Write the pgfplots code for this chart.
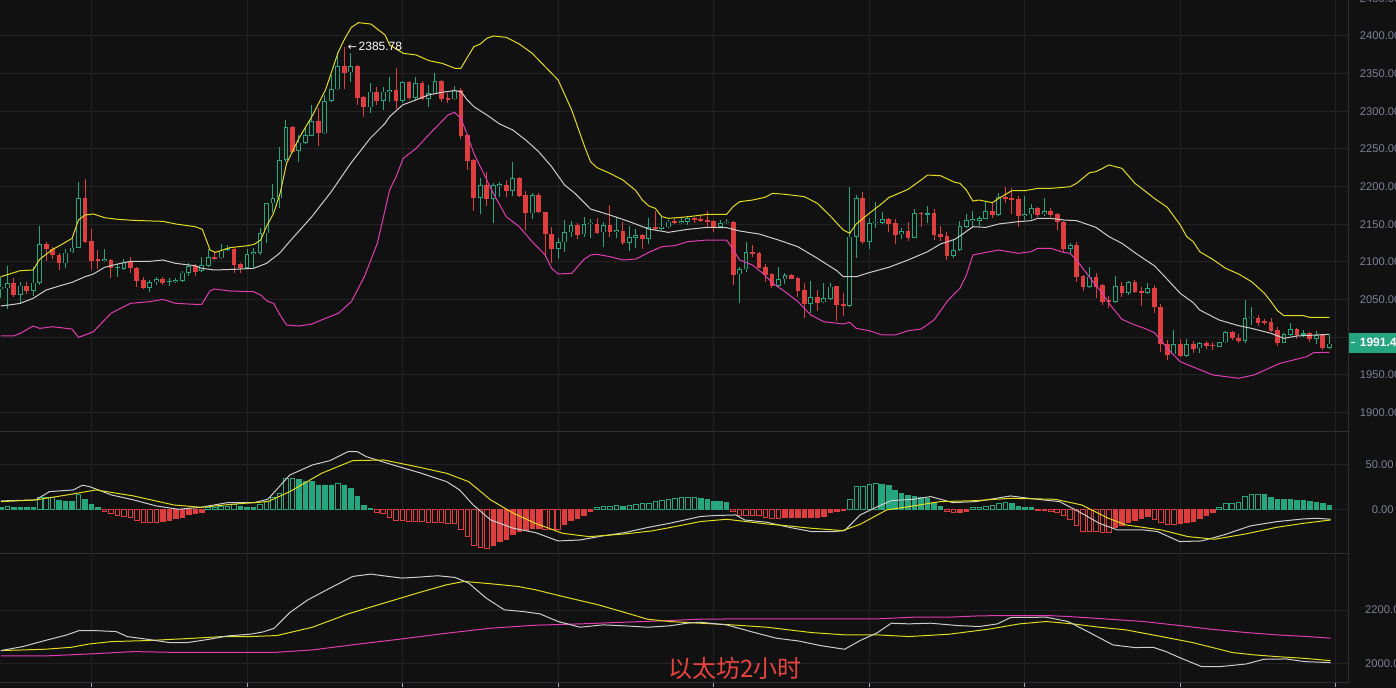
\documentclass[border=0pt]{standalone}
\usepackage{pgfplots}
\pgfplotsset{compat=1.18}
\usepackage{pgfplotstable}
\usepackage{fontspec}
\setmainfont{Liberation Sans}
\newfontfamily\cjk{Noto Sans CJK SC}
\newfontfamily\dejavu{DejaVu Sans}
\definecolor{bg}{RGB}{17,17,18}
\definecolor{gridc}{RGB}{34,34,37}
\definecolor{sepc}{RGB}{46,46,50}
\definecolor{cgreen}{RGB}{38,166,127}
\definecolor{cred}{RGB}{222,62,62}
\definecolor{cyel}{RGB}{228,218,30}
\definecolor{cmag}{RGB}{226,60,178}
\definecolor{cwht}{RGB}{205,205,205}
\definecolor{labc}{RGB}{122,130,150}
\definecolor{titc}{RGB}{232,68,62}

\pgfplotstableread{
j o h l c
0 2063.6 2080.4 2051.7 2067.2
1 2065.0 2094.6 2037.1 2071.6
2 2071.6 2078.2 2053.9 2056.1
3 2056.1 2073.8 2045.9 2068.5
4 2068.5 2073.8 2057.4 2061.8
5 2061.8 2092.8 2054.8 2072.5
6 2072.5 2148.2 2069.4 2123.4
7 2123.4 2126.9 2101.7 2117.6
8 2117.6 2120.2 2103.5 2108.8
9 2108.8 2112.3 2089.3 2098.1
10 2098.1 2116.7 2091.5 2112.3
11 2112.7 2131.3 2111.4 2119.0
12 2119.0 2205.7 2118.1 2184.4
13 2184.4 2210.1 2124.7 2126.9
14 2127.8 2143.3 2089.3 2101.7
15 2103.9 2115.8 2091.1 2101.7
16 2101.7 2116.7 2100.4 2103.9
17 2102.6 2104.3 2078.2 2091.5
18 2091.5 2096.8 2080.4 2093.3
19 2091.1 2103.5 2089.3 2099.0
20 2100.4 2106.1 2084.9 2091.5
21 2091.5 2093.7 2067.2 2075.1
22 2076.0 2080.4 2063.6 2065.8
23 2065.8 2076.0 2060.5 2072.9
24 2072.9 2079.5 2069.4 2076.9
25 2076.9 2079.5 2069.4 2072.5
26 2072.9 2078.2 2068.5 2074.2
27 2073.8 2079.1 2072.5 2076.0
28 2074.6 2088.4 2073.8 2085.7
29 2085.7 2099.0 2081.3 2094.2
30 2095.0 2096.8 2081.3 2087.1
31 2088.0 2107.0 2087.1 2095.9
32 2095.0 2116.7 2093.7 2106.1
33 2106.1 2112.7 2102.6 2103.9
34 2104.8 2123.8 2103.5 2115.0
35 2115.8 2122.0 2115.0 2119.0
36 2117.6 2118.5 2085.8 2095.9
37 2096.8 2099.0 2085.8 2092.4
38 2092.4 2116.7 2090.2 2110.1
39 2110.1 2119.0 2093.7 2112.7
40 2112.3 2144.6 2109.2 2138.0
41 2138.0 2178.7 2124.7 2177.8
42 2177.8 2203.5 2164.5 2184.4
43 2184.4 2253.1 2171.2 2235.3
44 2235.3 2288.5 2233.1 2278.7
45 2278.7 2280.5 2245.1 2246.4
46 2247.7 2268.5 2233.1 2258.4
47 2258.4 2279.6 2256.6 2268.5
48 2267.6 2308.4 2267.2 2287.1
49 2287.1 2303.9 2253.9 2271.6
50 2270.8 2321.2 2269.4 2313.7
51 2313.7 2348.2 2312.8 2329.2
52 2329.2 2378.3 2328.3 2360.2
53 2360.2 2385.8 2329.2 2351.3
54 2351.7 2377.0 2339.4 2360.2
55 2360.2 2361.0 2308.4 2318.1
56 2318.6 2320.3 2292.9 2305.3
57 2305.3 2337.1 2298.2 2326.1
58 2326.1 2332.7 2308.4 2314.1
59 2314.1 2332.7 2301.7 2326.1
60 2325.2 2346.0 2312.8 2328.3
61 2328.3 2357.1 2303.1 2314.1
62 2314.1 2340.7 2311.5 2338.5
63 2338.5 2340.7 2315.0 2317.2
64 2318.1 2345.1 2315.0 2337.1
65 2337.1 2340.2 2315.0 2316.3
66 2316.3 2334.9 2306.2 2323.9
67 2323.9 2350.4 2323.0 2340.2
68 2340.2 2341.6 2312.8 2316.3
69 2318.1 2324.7 2310.6 2315.0
70 2315.9 2333.6 2315.0 2328.3
71 2328.3 2331.4 2262.8 2267.6
72 2268.5 2269.4 2222.1 2234.5
73 2235.3 2236.2 2168.1 2185.3
74 2185.3 2211.0 2163.2 2202.1
75 2202.1 2219.0 2174.7 2183.6
76 2183.6 2205.2 2151.2 2202.1
77 2201.3 2205.7 2185.8 2203.5
78 2202.1 2208.8 2186.7 2194.6
79 2194.6 2232.2 2188.0 2211.0
80 2211.0 2213.2 2185.8 2188.0
81 2188.9 2194.6 2142.4 2164.5
82 2164.5 2191.1 2157.0 2188.9
83 2188.9 2192.0 2164.5 2165.9
84 2165.9 2166.8 2107.0 2136.7
85 2136.7 2146.8 2098.1 2117.6
86 2117.6 2131.3 2103.9 2126.0
87 2126.0 2155.7 2113.6 2139.3
88 2139.3 2154.4 2133.5 2148.6
89 2148.6 2151.2 2130.0 2135.8
90 2136.7 2160.1 2133.5 2150.4
91 2150.0 2156.6 2131.3 2152.2
92 2150.4 2157.9 2136.7 2138.9
93 2139.3 2153.5 2120.2 2149.0
94 2149.0 2175.6 2133.5 2140.2
95 2140.2 2159.2 2131.3 2142.4
96 2141.1 2153.5 2122.5 2125.6
97 2125.6 2148.2 2115.0 2132.7
98 2132.2 2143.7 2118.1 2135.3
99 2135.8 2136.7 2116.7 2130.5
100 2130.9 2157.9 2123.8 2146.0
101 2146.0 2168.1 2142.4 2143.7
102 2143.7 2160.1 2142.4 2146.8
103 2146.0 2155.7 2144.6 2153.5
104 2154.8 2157.9 2149.9 2152.2
105 2152.2 2160.1 2150.4 2154.4
106 2153.5 2160.1 2149.0 2157.9
107 2157.9 2160.1 2152.2 2155.7
108 2157.0 2161.0 2153.5 2154.4
109 2155.7 2168.1 2146.8 2153.0
110 2154.4 2155.7 2140.2 2146.0
111 2146.8 2155.7 2146.0 2151.3
112 2151.3 2157.0 2150.4 2153.5
113 2153.5 2154.4 2069.4 2082.7
114 2083.5 2093.7 2045.9 2090.2
115 2090.2 2126.9 2087.1 2112.7
116 2112.7 2122.5 2106.1 2110.5
117 2111.4 2112.7 2091.5 2092.4
118 2092.8 2096.8 2073.8 2082.7
119 2084.0 2085.8 2065.8 2068.5
120 2068.5 2092.8 2067.2 2076.9
121 2076.9 2084.9 2070.7 2082.2
122 2082.2 2084.0 2076.9 2077.8
123 2078.2 2080.4 2053.9 2061.8
124 2062.3 2071.6 2025.1 2044.2
125 2044.6 2075.1 2032.6 2053.0
126 2053.0 2062.7 2035.3 2045.9
127 2046.4 2071.6 2045.9 2051.7
128 2050.8 2071.6 2049.5 2067.2
129 2068.0 2068.5 2022.0 2042.8
130 2044.2 2058.3 2028.2 2042.0
131 2042.0 2199.9 2039.7 2133.6
132 2133.6 2188.9 2105.7 2184.4
133 2184.4 2192.4 2123.4 2126.9
134 2126.9 2157.9 2116.7 2151.3
135 2151.3 2179.1 2144.6 2153.5
136 2152.2 2165.9 2149.9 2156.6
137 2156.6 2157.9 2139.3 2150.4
138 2151.3 2156.6 2123.4 2135.8
139 2136.7 2144.6 2130.0 2141.1
140 2141.1 2153.5 2128.2 2132.2
141 2132.2 2170.3 2131.3 2164.5
142 2165.4 2166.8 2146.8 2163.2
143 2162.8 2174.7 2151.3 2164.5
144 2164.5 2169.8 2129.1 2135.8
145 2136.7 2148.2 2127.8 2133.6
146 2134.4 2140.2 2102.6 2108.3
147 2108.3 2129.1 2104.8 2115.8
148 2115.8 2154.4 2115.0 2147.7
149 2146.8 2163.2 2144.6 2155.7
150 2154.8 2168.1 2144.6 2157.0
151 2154.8 2161.0 2147.7 2158.4
152 2157.5 2180.0 2156.6 2167.6
153 2167.6 2177.8 2157.9 2162.3
154 2162.3 2191.1 2161.4 2185.8
155 2186.7 2199.9 2177.8 2183.6
156 2185.3 2197.7 2163.7 2182.2
157 2183.6 2187.5 2146.0 2161.4
158 2161.4 2187.5 2155.7 2163.7
159 2163.2 2176.9 2157.0 2171.2
160 2171.2 2173.4 2160.1 2162.3
161 2163.2 2185.3 2161.4 2167.6
162 2167.6 2171.2 2159.2 2162.3
163 2163.7 2164.5 2142.4 2152.6
164 2153.5 2154.4 2112.7 2117.2
165 2117.2 2124.7 2112.3 2122.5
166 2122.5 2126.9 2073.8 2080.4
167 2081.3 2082.7 2061.8 2067.2
168 2067.2 2093.7 2065.0 2080.4
169 2080.4 2084.9 2051.7 2067.2
170 2069.4 2070.3 2042.8 2047.3
171 2049.5 2054.8 2038.4 2047.3
172 2047.3 2081.3 2045.9 2068.0
173 2068.0 2072.9 2053.9 2059.2
174 2059.2 2074.7 2056.1 2072.9
175 2072.9 2076.0 2058.3 2060.5
176 2061.4 2067.2 2041.5 2059.2
177 2059.2 2071.6 2057.4 2064.9
178 2064.9 2069.4 2032.6 2039.7
179 2039.7 2043.7 1980.9 1991.0
180 1991.0 1996.3 1969.8 1976.4
181 1977.3 2009.6 1975.1 1991.0
182 1991.0 1997.2 1974.2 1975.5
183 1975.5 1997.2 1974.2 1991.0
184 1991.0 1995.5 1978.6 1984.4
185 1985.3 1994.1 1978.6 1991.9
186 1992.8 1995.5 1984.4 1988.8
187 1990.2 1994.1 1983.1 1987.9
188 1987.5 1994.1 1986.6 1993.3
189 1993.3 2008.3 1992.8 2006.5
190 2006.5 2008.3 1996.3 1998.6
191 1998.6 2004.3 1991.9 1995.5
192 1995.5 2049.5 1991.9 2025.1
193 2025.1 2039.7 2016.3 2027.3
194 2025.1 2029.5 2015.0 2018.5
195 2021.6 2024.2 2016.3 2018.5
196 2020.7 2025.1 2006.5 2008.3
197 2009.6 2013.2 1988.8 1992.8
198 1992.8 2005.2 1991.9 2003.9
199 2003.0 2019.4 2001.7 2010.5
200 2010.5 2011.8 1997.2 2003.0
201 2003.4 2009.6 2000.8 2005.2
202 2005.2 2006.5 1993.3 1997.7
203 1997.7 2008.3 1991.0 2003.0
204 2003.0 2003.9 1983.1 1986.2
205 1986.2 2003.0 1984.0 1991.4
}\candles

\pgfplotstableread{
j v
0 2080.4
3 2088.4
5 2089.3
6 2103.5
8 2116.7
9 2121.2
11 2131.3
12 2155.7
13 2162.3
14.3 2163.7
16 2158.8
18 2156.6
20.5 2155.2
25 2153.9
27 2150.4
30 2146.8
31.1 2143.3
32.3 2115.8
33.1 2112.7
35.4 2119.0
38.1 2121.6
39.1 2123.4
40.1 2129.1
41.1 2149.0
42.1 2164.5
43.1 2191.1
44.1 2230.9
46 2264.1
48 2292.9
50.1 2328.3
52.1 2379.2
53.1 2396.9
54.1 2411.5
55.2 2417.7
57.1 2415.9
59.3 2401.3
60 2388.0
62.1 2377.0
64.1 2374.8
66.1 2367.2
68.1 2363.7
70.1 2357.1
71 2357.1
72 2371.7
73 2385.8
74 2389.4
75 2396.9
76 2400.0
78 2398.2
80 2389.4
82 2377.0
84 2359.3
86 2341.6
88.1 2301.7
90 2255.3
91 2233.1
92 2225.2
94 2217.6
96 2208.8
98 2194.6
99 2182.2
100 2174.3
101 2171.2
102 2160.1
103 2157.9
105 2159.2
107 2161.0
109 2163.2
112 2163.2
113 2173.4
114 2180.0
116 2182.2
117.9 2185.8
119.1 2191.1
121 2189.8
124 2186.7
126 2177.8
128 2161.0
130 2142.4
131 2138.0
132 2150.4
134 2164.5
136 2177.8
137 2185.3
140 2196.4
142 2208.8
143 2215.4
145 2214.5
147.2 2205.7
148 2204.4
149 2195.5
150 2180.9
151 2182.2
153 2178.7
154 2184.4
156 2194.6
158 2194.6
160 2197.7
162 2197.7
164 2199.1
165 2199.9
166 2204.4
168 2218.5
169 2219.9
171 2228.7
173 2224.3
175 2204.4
176.5 2194.6
178 2184.4
180 2172.5
182 2149.0
183 2133.6
184 2126.9
185 2113.6
187 2103.5
189 2091.5
191 2084.0
193 2073.8
195 2058.3
196 2047.3
197 2035.3
198 2028.7
201 2028.7
202 2026.4
205 2026.4
}\bbup

\pgfplotstableread{
j v
0 2041.5
2 2043.7
3 2045.0
5 2051.7
7 2062.7
9 2068.0
11 2072.9
13 2080.4
14.3 2084.0
16 2092.8
18 2097.2
20 2100.8
23 2100.8
25 2102.6
27 2098.1
30 2095.0
31 2091.5
33 2089.3
36 2090.2
39 2091.5
41 2098.1
43 2111.4
45 2131.3
48 2160.1
51 2193.3
54 2230.9
57 2264.1
59.3 2284.0
60 2292.9
62 2308.4
64 2315.0
66 2321.7
68 2325.2
70 2327.4
71 2326.1
72 2315.0
73 2306.2
75 2295.1
77 2283.1
79 2275.2
81 2261.9
83 2246.4
85 2226.5
87 2202.1
88.6 2191.1
91 2170.3
94 2162.3
97 2153.5
100 2143.7
103 2139.3
106 2143.3
109 2145.9
112 2145.5
114 2141.1
117 2137.1
120 2129.1
123 2120.2
126 2104.8
129 2088.4
130 2080.4
132 2080.4
134 2085.8
137 2092.8
140 2102.6
143 2113.6
145 2123.8
147.2 2130.0
148 2134.4
150 2146.8
152 2145.9
154 2150.4
157 2153.5
159 2154.8
160 2157.9
162 2157.9
164 2155.7
166 2154.8
169 2145.9
171 2133.6
173 2124.7
175 2112.3
176.5 2103.5
178 2095.0
180 2076.9
182 2058.3
184 2045.9
185 2036.2
188 2022.9
191 2015.4
193 2011.8
196 2005.2
198 1998.6
200 2001.7
203 2003.0
205 2003.9
}\bbmid

\pgfplotstableread{
j v
0 2001.7
2 2001.7
3 2005.2
5 2014.9
6 2011.8
8 2014.0
11 2010.9
12 1999.9
13 2003.0
14.3 2007.4
17 2031.8
20 2045.0
23 2047.3
25 2050.3
27 2045.0
30 2043.7
31 2043.7
32.3 2061.8
33 2064.1
35.4 2061.4
39 2060.5
40.1 2056.1
41.1 2048.1
42.1 2045.0
43.1 2029.5
44.1 2016.3
46 2014.9
48 2017.6
50.1 2025.1
52.1 2031.8
54.1 2047.3
56.1 2080.4
58.1 2124.7
59.3 2169.0
60 2195.5
61 2213.2
62.1 2237.6
64.1 2250.8
66 2268.5
68 2286.2
69 2295.1
70 2298.6
71 2290.7
72 2268.5
73 2244.2
74 2226.5
76 2191.1
78 2160.1
80 2146.8
82 2126.9
84 2109.2
85 2091.5
86 2084.0
88.1 2084.9
90 2103.5
91 2109.2
92 2110.1
94 2107.0
96 2102.6
98 2103.9
100 2112.7
102 2120.2
104 2121.6
106 2126.9
109 2129.1
112 2129.1
113 2116.7
114 2102.6
116 2095.9
117.9 2082.7
119.1 2071.6
121 2060.5
123 2047.3
125 2029.5
127 2020.7
130 2017.6
131 2019.8
132 2011.8
134 2008.7
136 2003.0
138 2003.0
140 2008.7
142 2010.9
144 2022.9
146 2047.3
147.2 2058.3
148 2064.9
149 2082.7
150 2109.2
152 2112.7
154 2115.8
157 2111.4
159 2113.6
160 2118.1
162 2118.1
164 2112.7
165 2111.4
166 2102.6
168 2079.6
170 2058.3
171 2045.0
173 2023.8
175 2016.3
176.5 2011.8
178 2006.1
179 1996.3
180 1985.3
181 1976.4
182 1967.6
187 1950.0
191 1945.5
193.4 1950.0
197.4 1965.4
201.5 1974.2
202.6 1979.6
205 1980.0
}\bblow

\pgfplotstableread{
j v t
0 2 1
1 3.5 2
2 2 1
3 2 1
4 2 1
5 2 1
6 13 2
7 13 2
8 13 2
9 10 1
10 9 1
11 9 1
12 16 2
13 11 1
14 5 1
15 2 1
16 -2 4
17 -5 4
18 -7 4
19 -8 4
20 -9 4
21 -12 4
22 -15 4
23 -15 4
24 -15 4
25 -13 3
26 -12 3
27 -10 3
28 -9 3
29 -6 3
30 -5 3
31 -3 3
32 2 2
33 2 2
34 3 2
35 3 2
36 5 2
37 3 1
38 2 1
39 2 1
40 5 2
41 9 2
42 13 2
43 18 2
44 34 2
45 34 2
46 33 1
47 31 1
48 31 1
49 27 1
50 27 1
51 27 1
52 29 2
53 27 1
54 23 1
55 14 1
56 4 1
57 1 1
58 -4 4
59 -5 4
60 -9 4
61 -12 4
62 -12 4
63 -13 4
64 -14 4
65 -14 4
66 -15 4
67 -15 4
68 -15 4
69 -16 4
70 -16 4
71 -22 4
72 -30 4
73 -40 4
74 -42 4
75 -44 4
76 -40 3
77 -36 3
78 -33 3
79 -28 3
80 -25 3
81 -23 3
82 -21 3
83 -21 3
84 -22 4
85 -22 4
86 -22 4
87 -17 3
88 -12 3
89 -10 3
90 -7 3
91 -2 3
92 2 2
93 3 2
94 3 2
95 4 2
96 3 1
97 4 2
98 5 2
99 6 2
100 7 2
101 9 2
102 10 2
103 11 2
104 12 2
105 13 2
106 13 2
107 13 2
108 12 1
109 11 1
110 9 1
111 9 1
112 8 1
113 -2 4
114 -7 4
115 -7 4
116 -7 4
117 -7 4
118 -9 4
119 -10 4
120 -10 4
121 -9 3
122 -9 3
123 -9 3
124 -9 3
125 -9 3
126 -9 3
127 -8 3
128 -3 3
129 -2 3
130 -1 3
131 11 2
132 25 2
133 25 2
134 28 2
135 29 2
136 28 1
137 26 1
138 21 1
139 18 1
140 15 1
141 14 1
142 13 1
143 12 1
144 8 1
145 3 1
146 -2 4
147 -4 4
148 -3 3
149 -2 3
150 2 2
151 2 2
152 3 2
153 4 2
154 7 2
155 8 2
156 6 1
157 3 1
158 2 1
159 2 1
160 -1 4
161 -1 4
162 -2 4
163 -3 4
164 -7 4
165 -11 4
166 -18 4
167 -25 4
168 -25 4
169 -25 4
170 -26 4
171 -26 4
172 -20 3
173 -18 3
174 -15 3
175 -12 3
176 -10 3
177 -8 3
178 -11 4
179 -15 4
180 -17 4
181 -17 4
182 -16 3
183 -15 3
184 -13 3
185 -10 3
186 -7 3
187 -4 3
188 2 2
189 6 2
190 7 2
191 8 2
192 14 2
193 16 2
194 17 2
195 16 1
196 13 1
197 11 1
198 11 1
199 11 1
200 10 1
201 10 1
202 9 1
203 8 1
204 6 1
205 4 1
}\hist

\pgfplotstableread{
j v
0 9.3
5.4 10.4
7.5 19.6
11.2 21.5
12.6 26.7
13.7 25.2
17.1 15.9
20.5 10.4
24 3.7
27.4 0
30.9 2.2
35 7.4
39.1 7.4
41.2 11.1
44.6 38.1
48.1 49.3
50.8 54.1
53.6 64.1
55 64.1
56.4 58.5
60.5 49.3
64.6 40.7
68.8 30.7
70.8 21.5
72.9 4.8
75.6 -11.9
79.1 -21.1
82.5 -25.9
86 -35.2
89.4 -34.1
92.9 -29.6
96.3 -25.9
99.7 -20.4
103.2 -15.6
107.9 -8.1
110 -7
113.4 -6.3
114.8 -11.9
118.2 -14.4
121.6 -20
125.1 -24.8
128.5 -24.8
130.2 -23.7
132.6 -6.3
135.3 3
137.4 9.6
140.8 11.1
143.5 14.1
146.9 7.4
150.4 8.5
155.8 14.8
159.9 11.1
163.4 8.5
166.8 -4.4
169.5 -15.6
172.3 -23
176.4 -23
178.5 -24.8
181.9 -35.9
185.3 -35.2
188.7 -28.5
192.8 -18.5
196.9 -13.7
201 -10.7
203.1 -10
205.2 -11.1
}\dif

\pgfplotstableread{
j v
0 8.5
5.4 10.4
10.2 15.9
14.7 21.5
20.5 14.8
26.7 4.8
30.9 2.2
35.7 5.6
41.2 8.5
44.6 19.6
49.5 40
54.3 54.1
59.1 54.8
64.6 46.7
68.8 40
72.2 30.7
75.6 10.4
79.1 -4.4
82.5 -15.6
86.7 -26.7
90.8 -30.4
96.3 -27.4
100.4 -24.1
103.2 -20.4
107.9 -13.7
112 -11.1
118.2 -16.3
121.6 -18.5
125.1 -21.1
129.9 -23.7
132.6 -16.7
136.7 -0.7
140.8 3.7
144.9 8.5
150.4 9.6
155.8 12.2
162.7 11.1
166.8 4.8
170.9 -10
173.6 -17.4
179.1 -23
183.2 -30.4
187.3 -33.3
192.1 -27.4
196.9 -20
201 -15.6
205.2 -11.9
}\dea

\pgfplotstableread{
j v
0 2047.7
3.4 2062.8
6.8 2085.4
10.2 2106.8
12.1 2123.1
14.3 2123.1
17.8 2119.4
19.5 2100.5
22.6 2090.4
26 2077.9
28.8 2077.9
32.2 2090.4
35 2103.0
38.5 2109.3
40.5 2118.1
42.2 2131.9
44.6 2191.1
47.4 2238.9
50.8 2282.9
54.3 2326.9
57.1 2335.7
59.8 2326.9
61.9 2320.7
64.6 2324.4
67.4 2329.5
70.1 2323.2
72.2 2301.8
74.9 2245.2
77.7 2201.2
80.5 2194.9
83.2 2186.0
86 2157.1
89.4 2135.7
92.9 2144.5
96.3 2140.8
99.8 2135.7
103.2 2140.8
105.9 2150.8
107.9 2154.6
112 2144.5
116.1 2116.9
119.7 2094.2
123 2084.2
126.5 2066.5
128.5 2059.0
130.2 2052.7
132.6 2085.4
135.3 2115.6
137.4 2150.8
140.1 2148.3
143.5 2150.8
147.6 2142.0
151 2138.2
153.8 2148.3
155.8 2172.2
161.3 2173.5
164.7 2157.1
168.2 2113.1
171.6 2069.1
175 2059.0
177.8 2060.2
179.8 2043.9
181.9 2021.2
185.3 1987.3
188.1 1987.3
192.2 1997.4
194.9 2015.0
198.3 2016.2
201.2 2006.2
205.2 2002.4
}\maw

\pgfplotstableread{
j v
0 2047.7
6.8 2052.7
10.9 2060.2
13.7 2072.8
17.1 2081.6
22.6 2085.4
28.8 2092.9
34.3 2100.5
38.5 2100.5
42.6 2104.3
48.1 2135.7
53.6 2186.0
59.1 2226.3
64.6 2266.6
68.8 2295.5
71.5 2308.1
75.6 2299.3
79.8 2289.2
82.5 2276.6
86.7 2251.5
92.2 2220.0
96.3 2191.1
99.8 2165.9
103.2 2157.1
107.9 2150.8
112 2145.8
118.2 2135.7
125.1 2115.6
130.3 2106.8
135.3 2106.8
140.1 2100.5
146.3 2109.3
152.4 2128.2
157.2 2148.3
161.3 2157.1
165.4 2148.3
169.5 2135.7
173.6 2125.7
179.1 2100.5
183.9 2077.9
190.1 2040.1
193.5 2031.3
196.9 2025.0
201 2018.7
205.2 2009.9
}\may

\pgfplotstableread{
j v
0 2027.5
6.8 2027.5
13.7 2035.1
20.5 2043.9
26 2041.4
34.3 2041.4
42.6 2041.4
48.1 2050.2
55 2071.6
61.9 2091.7
68.8 2113.1
75.6 2132.0
82.5 2143.3
89.4 2148.3
96.3 2154.6
103.2 2160.9
107.9 2165.9
114.7 2167.2
121.6 2167.2
128.5 2167.2
135.3 2167.2
140.8 2173.5
146.3 2173.5
151 2178.5
155.8 2179.8
161.3 2179.8
164.7 2176.0
169.5 2168.4
176.4 2157.1
181.9 2142.0
186.7 2128.2
192.2 2115.6
196.9 2106.8
201.7 2100.5
205.2 2094.2
}\mam

\pgfplotsset{
  panel/.style={
    scale only axis, width=1011.75pt, xmin=-0.119, xmax=208.03,
    axis y line*=right, axis x line*=bottom,
    axis line style={draw=sepc, line width=0.75pt},
    xtick={14,38,62,86,110,134,158,182,206}, xticklabels={},
    grid=major, major grid style={draw=gridc, line width=0.75pt},
    ytick style={draw=none}, xtick style={draw=none},
    yticklabel style={font=\fontsize{8.4pt}{10pt}\selectfont, text=labc, inner sep=0pt},
    clip=false,
  },
}

\begin{document}
\begin{tikzpicture}
\fill[bg] (0pt,0pt) rectangle (1047pt,-516pt);

% ---------------- main panel ----------------
\begin{axis}[panel, at={(0pt,0pt)}, anchor=north west, height=324pt,
  ymin=1874.2, ymax=2447.8,
  ytick={1900,1950,2000,2050,2100,2150,2200,2250,2300,2350,2400},
  yticklabels={1900.00,1950.00,2000.00,2050.00,2100.00,2150.00,2200.00,2250.00,2300.00,2350.00,2400.00},
  yticklabel style={anchor=west, xshift=8pt},
]
% green candles: wick, body outline, hollow inside
\addplot[forget plot, mark=none, draw=cgreen, line width=0.75pt, -,
  quiver={u=0, v={\thisrow{h}-\thisrow{l}}},
  restrict expr to domain={\thisrow{c}-\thisrow{o}}{0:1000}]
  table[x=j, y=l] {\candles};
\addplot[forget plot, mark=none, draw=cgreen, line width=3.6pt, -,
  quiver={u=0, v={2*max(abs(\thisrow{c}-\thisrow{o})/2,0.6)}},
  restrict expr to domain={\thisrow{c}-\thisrow{o}}{0:1000}]
  table[x=j, y expr={(\thisrow{o}+\thisrow{c})/2-max(abs(\thisrow{c}-\thisrow{o})/2,0.6)}] {\candles};
\addplot[forget plot, mark=none, draw=bg, line width=2.1pt, -,
  quiver={u=0, v={2*max(abs(\thisrow{c}-\thisrow{o})/2-1.0,0)}},
  restrict expr to domain={\thisrow{c}-\thisrow{o}}{0:1000}]
  table[x=j, y expr={(\thisrow{o}+\thisrow{c})/2-max(abs(\thisrow{c}-\thisrow{o})/2-1.0,0)}] {\candles};
% red candles
\addplot[forget plot, mark=none, draw=cred, line width=0.75pt, -,
  quiver={u=0, v={\thisrow{h}-\thisrow{l}}},
  restrict expr to domain={\thisrow{c}-\thisrow{o}}{-1000:-0.001}]
  table[x=j, y=l] {\candles};
\addplot[forget plot, mark=none, draw=cred, line width=3.6pt, -,
  quiver={u=0, v={2*max(abs(\thisrow{c}-\thisrow{o})/2,0.6)}},
  restrict expr to domain={\thisrow{c}-\thisrow{o}}{-1000:-0.001}]
  table[x=j, y expr={(\thisrow{o}+\thisrow{c})/2-max(abs(\thisrow{c}-\thisrow{o})/2,0.6)}] {\candles};
% bands
\addplot[cyel, line width=0.75pt] table[x=j,y=v] {\bbup};
\addplot[cwht, line width=0.75pt] table[x=j,y=v] {\bbmid};
\addplot[cmag, line width=0.75pt] table[x=j,y=v] {\bblow};
% annotations
\node[anchor=west, text=white, inner sep=0pt, font=\fontsize{9pt}{10pt}\selectfont] at (axis cs:53.5,2386.5) {{\dejavu\fontsize{8pt}{9pt}\selectfont ←}\hspace{1.5pt}2385.78};
\node[anchor=west, text=labc, inner sep=0pt, xshift=8pt, font=\fontsize{8.4pt}{10pt}\selectfont] at (axis cs:208.03,2449) {2450.00};
\node[anchor=west, fill=cgreen, text=white, minimum height=15pt, inner xsep=1.5pt, inner ysep=0pt,
  font=\fontsize{9pt}{10pt}\selectfont\bfseries] at (axis cs:208.03,1992.6) {\rule[3pt]{2.5pt}{0.6pt}\hspace{4pt}1991.40};
\end{axis}

% ---------------- MACD panel ----------------
\begin{axis}[panel, at={(0pt,-324pt)}, anchor=north west, height=90.75pt,
  ymin=-48.6, ymax=85.9, ytick={0,50}, yticklabels={0.00,50.00},
  yticklabel style={anchor=east, xshift=33.75pt},
]
\addplot[ybar, bar width=3.4pt, bar shift=0pt, draw=cgreen, fill=cgreen, line width=0.6pt,
  restrict expr to domain={\thisrow{t}}{1:1}] table[x=j,y=v] {\hist};
\addplot[ybar, bar width=3.4pt, bar shift=0pt, draw=cgreen, fill=bg, line width=0.6pt,
  restrict expr to domain={\thisrow{t}}{2:2}] table[x=j,y=v] {\hist};
\addplot[ybar, bar width=3.4pt, bar shift=0pt, draw=cred, fill=cred, line width=0.6pt,
  restrict expr to domain={\thisrow{t}}{3:3}] table[x=j,y=v] {\hist};
\addplot[ybar, bar width=3.4pt, bar shift=0pt, draw=cred, fill=bg, line width=0.6pt,
  restrict expr to domain={\thisrow{t}}{4:4}] table[x=j,y=v] {\hist};
\addplot[cwht, line width=0.75pt] table[x=j,y=v] {\dif};
\addplot[cyel, line width=0.75pt] table[x=j,y=v] {\dea};
\end{axis}

% ---------------- bottom panel ----------------
\begin{axis}[panel, at={(0pt,-414.75pt)}, anchor=north west, height=96.75pt,
  ymin=1929.4, ymax=2415.1, ytick={2000,2200}, yticklabels={2000.00,2200.00},
  yticklabel style={anchor=west, xshift=8pt},
  xtick style={draw=labc!70, line width=0.75pt}, tick align=outside, major tick length=4pt,
]
\addplot[cmag, line width=0.75pt] table[x=j,y=v] {\mam};
\addplot[cyel, line width=0.75pt] table[x=j,y=v] {\may};
\addplot[cwht, line width=0.75pt] table[x=j,y=v] {\maw};
\node[text=titc, inner sep=0pt, font=\cjk\fontsize{18pt}{20pt}\selectfont] at (axis cs:113.3,1982.3) {以太坊2小时};
\end{axis}

\pgfresetboundingbox
\path[use as bounding box] (0pt,0pt) rectangle (1047pt,-516pt);
\end{tikzpicture}
\end{document}
